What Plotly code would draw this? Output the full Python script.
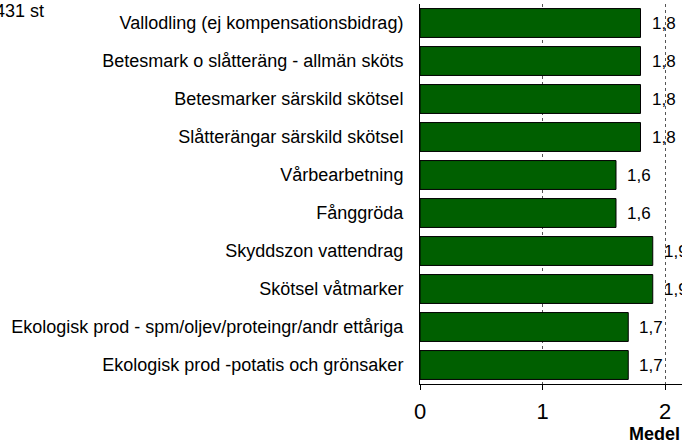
import plotly.graph_objects as go

categories = [
    "Vallodling (ej kompensationsbidrag)",
    "Betesmark o slåtteräng - allmän sköts",
    "Betesmarker särskild skötsel",
    "Slåtterängar särskild skötsel",
    "Vårbearbetning",
    "Fånggröda",
    "Skyddszon vattendrag",
    "Skötsel våtmarker",
    "Ekologisk prod - spm/oljev/proteingr/andr ettåriga",
    "Ekologisk prod -potatis och grönsaker",
]
values = [1.8, 1.8, 1.8, 1.8, 1.6, 1.6, 1.9, 1.9, 1.7, 1.7]
value_labels = [f"{v:.1f}".replace(".", ",") for v in values]

W, H = 682, 443
L, R, T, B = 420, 0, 4, 59
plot_w = W - L - R
plot_h = H - T - B
px_per_unit = 122.5
x_max = plot_w / px_per_unit
FONT = "Arial, Liberation Sans, sans-serif"

fig = go.Figure(
    go.Bar(
        y=categories,
        x=values,
        orientation="h",
        marker=dict(color="#005f00", line=dict(color="#000000", width=1)),
        width=0.76,
        cliponaxis=False,
    )
)

# value labels just right of each bar end
for cat, v, lab in zip(categories, values, value_labels):
    fig.add_annotation(
        x=v, y=cat, xref="x", yref="y",
        text=lab, showarrow=False,
        xanchor="left", yanchor="middle", xshift=9,
        font=dict(family=FONT, size=17, color="#000000"),
    )

fig.update_layout(
    width=W,
    height=H,
    margin=dict(l=L, r=R, t=T, b=B),
    paper_bgcolor="white",
    plot_bgcolor="white",
    showlegend=False,
    font=dict(family=FONT, color="#000000"),
)

fig.update_xaxes(
    range=[0, x_max],
    tickvals=[0, 1, 2],
    ticktext=["0", "1", "2"],
    tickfont=dict(size=22),
    ticks="outside",
    ticklen=5,
    tickcolor="#000000",
    showline=True,
    linecolor="#000000",
    linewidth=1,
    showgrid=True,
    gridcolor="#555555",
    griddash="dot",
    gridwidth=1,
    zeroline=False,
    ticklabelstandoff=3,
)

fig.update_yaxes(
    autorange="reversed",
    tickfont=dict(size=18),
    showline=True,
    linecolor="#000000",
    linewidth=1,
    showgrid=False,
    ticks="",
    ticklabelstandoff=12,
)

fig.add_annotation(
    text="431 st",
    xref="paper", yref="paper",
    x=(-7 - L) / plot_w, y=1 + (T + 1) / plot_h,
    xanchor="left", yanchor="top",
    showarrow=False,
    font=dict(family=FONT, size=18),
)

fig.add_annotation(
    text="<b>Medel</b>",
    xref="paper", yref="paper",
    x=(627 - L) / plot_w, y=-(434 - (H - B)) / plot_h,
    xanchor="left", yanchor="middle",
    showarrow=False,
    font=dict(family=FONT, size=18),
)

fig.write_html("out.html")
